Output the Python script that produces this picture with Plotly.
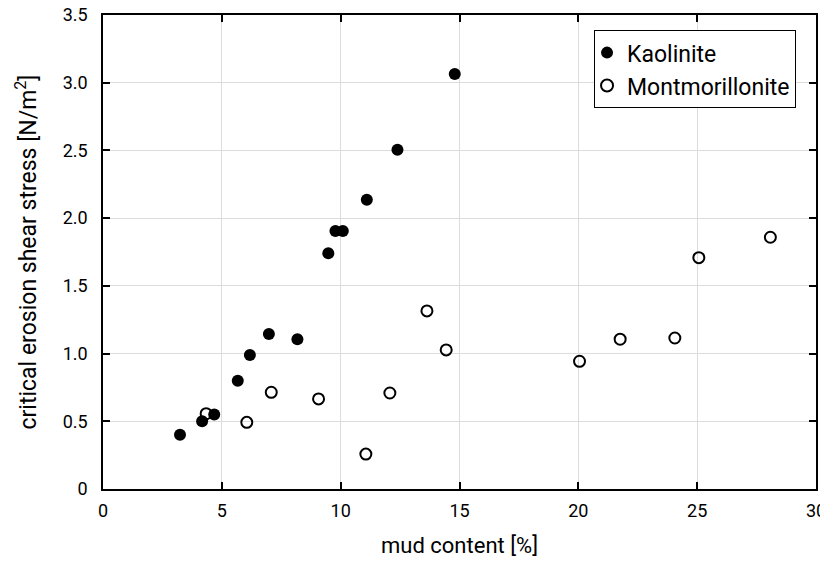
import plotly.graph_objects as go

# Kaolinite (filled markers)
kaolinite_mud = [3.24, 4.17, 4.68, 5.67, 6.18, 6.98, 8.18, 9.48, 9.78, 10.09, 11.1, 12.39, 14.8]
kaolinite_stress = [0.40, 0.50, 0.55, 0.80, 0.99, 1.145, 1.105, 1.74, 1.905, 1.905, 2.135, 2.505, 3.065]

# Montmorillonite (open markers)
montmo_mud = [4.34, 6.05, 7.08, 9.07, 11.06, 12.07, 13.63, 14.44, 20.05, 21.76, 24.06, 25.07, 28.08]
montmo_stress = [0.556, 0.492, 0.714, 0.665, 0.258, 0.709, 1.315, 1.027, 0.943, 1.106, 1.115, 1.708, 1.859]

y_ticks = [0, 0.5, 1.0, 1.5, 2.0, 2.5, 3.0, 3.5]
y_tick_labels = ["0", "0.5", "1.0", "1.5", "2.0", "2.5", "3.0", "3.5"]
x_ticks = [0, 5, 10, 15, 20, 25, 30]

fig = go.Figure()
fig.add_trace(go.Scatter(
    x=kaolinite_mud, y=kaolinite_stress, mode="markers", name="Kaolinite",
    marker=dict(symbol="circle", size=12, color="black", line=dict(width=0)),
))
fig.add_trace(go.Scatter(
    x=montmo_mud, y=montmo_stress, mode="markers", name="Montmorillonite",
    marker=dict(symbol="circle-open", size=11, color="black", line=dict(width=2)),
))

axis_style = dict(
    showline=True, linecolor="black", linewidth=1.5, mirror="ticks",
    ticks="inside", ticklen=7, tickcolor="black", tickwidth=1.5,
    showgrid=True, gridcolor="#dcdcdc", gridwidth=1, zeroline=False,
    tickfont=dict(size=18, color="black"), automargin=False,
    ticklabeloverflow="allow",
)

# the page body has an 8px margin, so the figure is made a little smaller
fig.update_layout(
    width=820, height=550,
    margin=dict(l=95, r=12, t=7, b=69),
    plot_bgcolor="white", paper_bgcolor="white",
    font=dict(family="Roboto", color="black"),
    showlegend=True,
    legend=dict(
        x=0.972, y=0.968, xanchor="right", yanchor="top",
        bgcolor="white", bordercolor="black", borderwidth=1,
        font=dict(size=23, color="black"), itemsizing="constant",
        tracegroupgap=0, indentation=-8,
    ),
    xaxis=dict(range=[0, 30], tickvals=x_ticks, ticklabelstandoff=5,
               title=dict(text="mud content [%]", font=dict(size=22, color="black"), standoff=17),
               **axis_style),
    yaxis=dict(range=[0, 3.5], tickvals=y_ticks, ticktext=y_tick_labels, ticklabelstandoff=10,
               title=dict(text="critical erosion shear stress [N/m<sup>2</sup>]",
                          font=dict(size=23, color="black"), standoff=20),
               **axis_style),
)

fig.write_html("out.html")
